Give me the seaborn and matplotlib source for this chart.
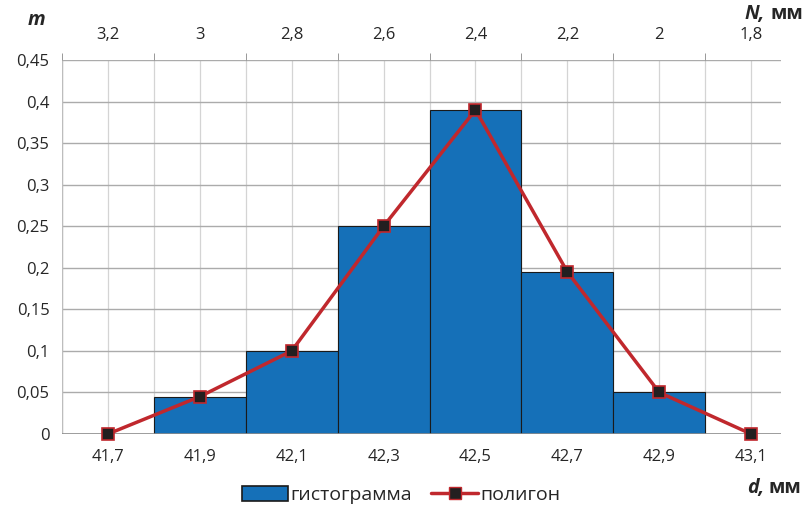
import numpy as np
import pandas as pd
import matplotlib
matplotlib.use("Agg")
import matplotlib.pyplot as plt
import seaborn as sns
from matplotlib.patches import Patch
from matplotlib.lines import Line2D

# data
bin_edges = [41.8, 42.0, 42.2, 42.4, 42.6, 42.8, 43.0]
bar_heights = [0.045, 0.1, 0.25, 0.39, 0.195, 0.05]
poly_d = [41.7, 41.9, 42.1, 42.3, 42.5, 42.7, 42.9, 43.1]
poly_m = [0, 0.045, 0.1, 0.25, 0.39, 0.195, 0.05, 0]
top_labels = ["3,2", "3", "2,8", "2,6", "2,4", "2,2", "2", "1,8"]
bottom_labels = ["41,7", "41,9", "42,1", "42,3", "42,5", "42,7", "42,9", "43,1"]
y_ticks = [0, 0.05, 0.1, 0.15, 0.2, 0.25, 0.3, 0.35, 0.4, 0.45]
y_labels = ["0", "0,05", "0,1", "0,15", "0,2", "0,25", "0,3", "0,35", "0,4", "0,45"]

BAR = "#1570b8"
LINE = "#c0282d"
TXT = "#262626"

sns.set_style("white")
plt.rcParams["font.family"] = ["Open Sans", "DejaVu Sans"]

fig = plt.figure(figsize=(8.08, 5.11), dpi=100)
ax = fig.add_axes([0.0767, 0.1507, 0.8899, 0.7319])

centers = [(a + b) / 2 for a, b in zip(bin_edges[:-1], bin_edges[1:])]
hist_df = pd.DataFrame({"d": centers, "m": bar_heights})
sns.histplot(data=hist_df, x="d", weights="m", bins=bin_edges, ax=ax,
             color=BAR, alpha=1, edgecolor="#1a1a1a", linewidth=0.8, zorder=2)

poly_df = pd.DataFrame({"d": poly_d, "m": poly_m})
sns.lineplot(data=poly_df, x="d", y="m", ax=ax, color=LINE, linewidth=2.5,
             marker="s", markersize=9, markerfacecolor="#231f20",
             markeredgecolor=LINE, markeredgewidth=1.2, zorder=4, clip_on=False)

ax.set_xlim(41.6, 43.165)
ax.set_ylim(0, 0.45)

# grid: every 0.1 on x, every 0.05 on y
for xv in np.arange(41.6, 43.15, 0.1):
    ax.axvline(xv, color="#d4d4d4", linewidth=0.9, zorder=0)
for yv in y_ticks[1:]:
    ax.axhline(yv, color="#ababab", linewidth=1.0, zorder=0)
ax.axhline(0, color="#8c8c8c", linewidth=1.2, zorder=3)

for s in ax.spines.values():
    s.set_visible(False)
ax.axvline(41.6, color="#bdbdbd", linewidth=1.0, zorder=0)

ax.set_yticks(y_ticks)
ax.set_yticklabels(y_labels, fontsize=12, color=TXT)
ax.tick_params(axis="y", length=5, color="#a8a8a8", pad=4)
ax.set_xticks(poly_d)
ax.set_xticklabels(bottom_labels, fontsize=12, color=TXT)
ax.tick_params(axis="x", length=0, pad=11)
ax.set_xlabel("")
ax.set_ylabel("")

top = ax.twiny()
top.set_xlim(ax.get_xlim())
top.set_xticks(poly_d)
top.set_xticklabels(top_labels, fontsize=12, color=TXT)
top.tick_params(axis="x", length=0, pad=12)
top.set_xticks(np.arange(41.6, 43.15, 0.2), minor=True)
top.tick_params(axis="x", which="minor", length=5, color="#888888", direction="out")
for s in top.spines.values():
    s.set_visible(False)

fig.text(36 / 808, 1 - 20 / 511, "m", fontsize=14, fontweight="bold",
         style="italic", ha="center", va="center", color=TXT)
fig.text(765 / 808, 1 - 14 / 511, "N,", fontsize=14, fontweight="bold",
         style="italic", ha="right", va="center", color=TXT)
fig.text(770 / 808, 1 - 14 / 511, "мм", fontsize=14, fontweight="bold",
         ha="left", va="center", color=TXT)
fig.text(764 / 808, 1 - 488 / 511, "d,", fontsize=14, fontweight="bold",
         style="italic", ha="right", va="center", color=TXT)
fig.text(769 / 808, 1 - 488 / 511, "мм", fontsize=14, fontweight="bold",
         ha="left", va="center", color=TXT)

handles = [Patch(facecolor=BAR, edgecolor="#1a1a1a", linewidth=1.2),
           Line2D([], [], color=LINE, linewidth=2.5, marker="s", markersize=9,
                  markerfacecolor="#231f20", markeredgecolor=LINE)]
fig.legend(handles, ["гистограмма", "полигон"], loc="center",
           bbox_to_anchor=(401 / 808, 1 - 495 / 511), ncol=2, frameon=False,
           fontsize=14, handlelength=2.4, handleheight=0.8, handletextpad=0.1,
           columnspacing=1.0, labelcolor=TXT)

fig.savefig("out.png", dpi=100)
